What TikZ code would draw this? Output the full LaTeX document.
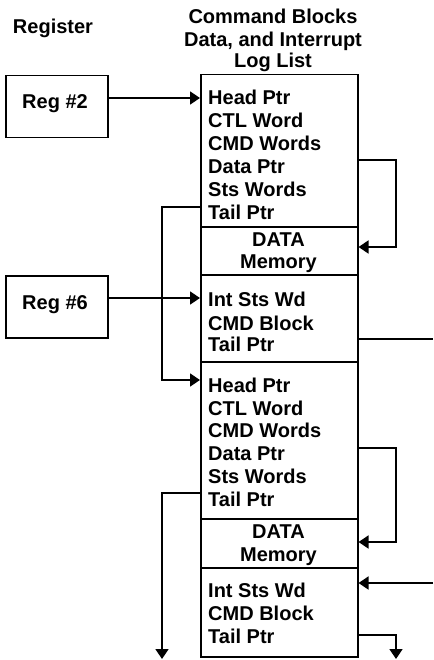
\documentclass[tikz,border=0pt]{standalone}
\usepackage{fontspec}
\setmainfont{Liberation Sans}
\usetikzlibrary{arrows.meta}
\begin{document}
\begin{tikzpicture}[x=1pt,y=-1pt,
  every node/.style={font=\bfseries\fontsize{20}{23}\selectfont, inner sep=0pt},
  box/.style={draw, line width=1.5pt, anchor=north west, inner sep=0pt},
  blk/.style={box, minimum width=157pt},
  ln/.style={anchor=base west, text height=14pt, text depth=0pt},
  ctr/.style={anchor=base},
  wire/.style={line width=1.5pt},
  arr/.style={wire, -{Triangle[length=10pt,width=13pt]}}]
\useasboundingbox (0,0) rectangle (433,660);
% titles
\node[ctr] (treg) at (53,34) {Register};
\node[ctr] (t1) at (273,24) {Command Blocks};
\node[ctr] (t2) at (273,46.7) {Data, and Interrupt};
\node[ctr] (t3) at (273,68) {Log List};
% registers
\node[box, minimum width=102pt, minimum height=62pt] (reg2) at (5,75) {};
\node[ctr] (r2t) at (55,109) {Reg \#2};
\node[box, minimum width=102pt, minimum height=62pt] (reg6) at (5,275) {};
\node[ctr] (r6t) at (55,309.3) {Reg \#6};
% column blocks
\node[blk, minimum height=152pt] (blk1) at (200,74) {};
\node[blk, minimum height=48pt] (mem1) at (200,226) {};
\node[blk, minimum height=87pt] (int1) at (200,274) {};
\node[blk, minimum height=157pt] (blk2) at (200,361) {};
\node[blk, minimum height=49pt] (mem2) at (200,518) {};
\node[blk, minimum height=89pt] (int2) at (200,567) {};
% block 1 text
\node[ln] (a1) at (208,105) {Head Ptr};
\node[ln] (a2) at (208,128) {CTL Word};
\node[ln] (a3) at (208,151) {CMD Words};
\node[ln] (a4) at (208,174) {Data Ptr};
\node[ln] (a5) at (208,196.5) {Sts Words};
\node[ln] (a6) at (208,219) {Tail Ptr};
\node[ctr] (m1a) at (278.5,246.7) {DATA};
\node[ctr] (m1b) at (278.5,268.5) {Memory};
\node[ln] (i1a) at (208,306.7) {Int Sts Wd};
\node[ln] (i1b) at (208,330) {CMD Block};
\node[ln] (i1c) at (208,351.7) {Tail Ptr};
% block 2 text
\node[ln] (b1) at (208,392.7) {Head Ptr};
\node[ln] (b2) at (208,415) {CTL Word};
\node[ln] (b3) at (208,437.5) {CMD Words};
\node[ln] (b4) at (208,460.7) {Data Ptr};
\node[ln] (b5) at (208,483.3) {Sts Words};
\node[ln] (b6) at (208,506) {Tail Ptr};
\node[ctr] (m2a) at (278.5,538.3) {DATA};
\node[ctr] (m2b) at (278.5,561.5) {Memory};
\node[ln] (i2a) at (208,597.3) {Int Sts Wd};
\node[ln] (i2b) at (208,620.7) {CMD Block};
\node[ln] (i2c) at (208,643.3) {Tail Ptr};
% free ends
\coordinate (e1) at (433,339);
\coordinate (e2) at (433,583);
\coordinate (d1) at (162,659);
\coordinate (d2) at (396,659);
% connectors
\draw[arr] (reg2.east |- 0,98) -- (blk1.west |- 0,98);
\draw[arr] (blk1.east |- 0,160) -| (396,247) -- (mem1.east |- 0,247);
\draw[arr] (blk1.west |- 0,207) -| (162,380) -- (blk2.west |- 0,380);
\draw[arr] (reg6.east |- 0,298) -- (int1.west |- 0,298);
\draw[wire] (int1.east |- e1) -- (e1);
\draw[arr] (blk2.east |- 0,448) -| (396,542) -- (mem2.east |- 0,542);
\draw[arr] (blk2.west |- 0,493) -| (d1);
\draw[arr] (e2) -- (int2.east |- e2);
\draw[arr] (int2.east |- 0,635) -| (d2);
\end{tikzpicture}
\end{document}
